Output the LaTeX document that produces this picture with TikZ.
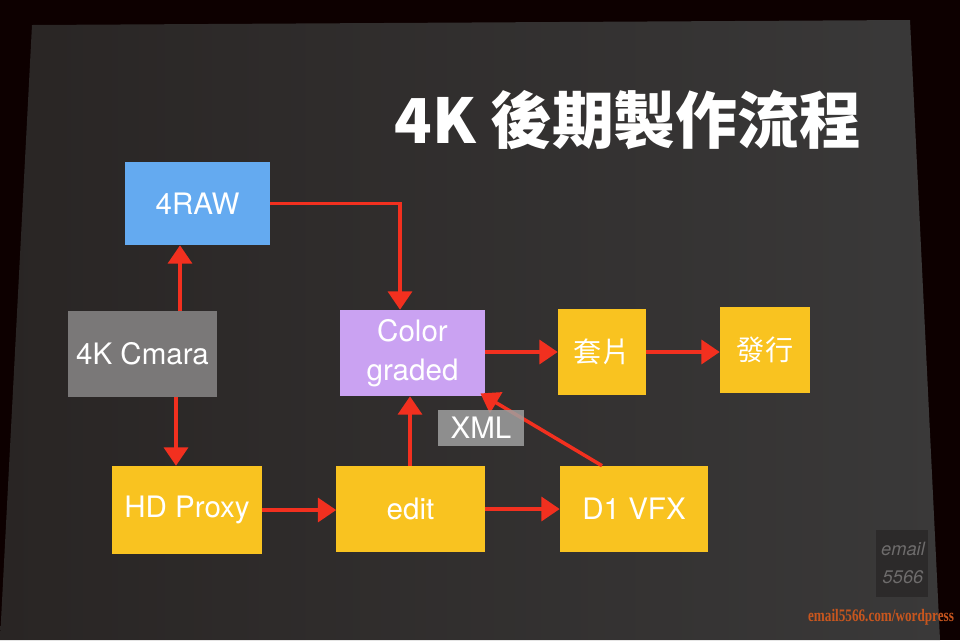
\documentclass[tikz,border=0pt]{standalone}
\usepackage{fontspec}
\usepackage{graphicx}
\setmainfont{TeX Gyre Heros}
\newfontfamily\cjk{Noto Sans CJK TC}
\newfontfamily\wmfont{Liberation Serif}
\usetikzlibrary{arrows.meta}
\definecolor{slideL}{HTML}{292524}
\definecolor{slideR}{HTML}{3A3939}
\definecolor{rawblue}{HTML}{64AAF0}
\definecolor{camgrey}{HTML}{7A7878}
\definecolor{lilac}{HTML}{CAA2F2}
\definecolor{sunny}{HTML}{F9C320}
\definecolor{arrowred}{HTML}{F2301F}
\definecolor{siteorange}{HTML}{C8561E}
\definecolor{wmbox}{HTML}{2C2A2A}
\definecolor{wmtext}{HTML}{6E6C6C}

\begin{document}
\begin{tikzpicture}[x=0.025cm,y=-0.025cm,
  box/.style={minimum width=3.7cm,minimum height=2.15cm,inner sep=0pt,text=white,align=center,font=\fontsize{21}{28}\selectfont},
  narrowbox/.style={box,minimum width=2.25cm,font=\cjk\fontsize{20}{24}\selectfont},
  arr/.style={draw=arrowred,line width=2.5pt,-{Triangle[length=13pt,width=17pt]}}]
\useasboundingbox (0,0) rectangle (960,640);
\fill[black!95!red] (0,0) rectangle (960,640);
\shade[left color=slideL,right color=slideR] (32,25) -- (910,20) -- (940,640) -- (0,640) -- cycle;
\node[text=white] (title) at (628,120) {\cjk\bfseries\fontsize{44}{50}\selectfont 4K 後期製作流程};
\node[box,fill=rawblue,minimum height=2.075cm,minimum width=3.625cm] (raw) at (197.5,203.5) {4RAW};
\node[box,fill=camgrey] (cam) at (142.5,354) {4K Cmara};
\node[box,fill=lilac,minimum width=3.625cm] (color) at (412.5,353) {Color\\graded};
\node[narrowbox,fill=sunny,minimum width=2.2cm] (tao) at (602,352) {套片};
\node[narrowbox,fill=sunny] (issue) at (765,350) {發行};
\node[box,fill=sunny,minimum width=3.75cm,minimum height=2.2cm] (hd) at (187,510) {HD Proxy};
\node[box,fill=sunny] (edit) at (410.5,509) {edit};
\node[box,fill=sunny] (vfx) at (634,509) {D1 VFX};
\draw[arr] (cam.north -| 180,0) -- (raw.south -| 180,0);
\draw[arr] (cam.south -| 176,0) -- (hd.north -| 176,0);
\draw[arr] (raw.east) -| (color.north -| 400,0);
\draw[arr] (color.east |- tao.west) -- (tao.west);
\draw[arr] (tao.east) -- (issue.west |- tao.east);
\draw[arr] (hd.east) -- (edit.west |- hd.east);
\draw[arr] (edit.east) -- (vfx.west |- edit.east);
\draw[arr] (edit.north -| 410,0) -- (color.south -| 410,0);
\draw[arr,shorten >=-4pt] (vfx.north -| 602,0) -- (color.south east);
\node[box,fill=gray!75,fill opacity=0.85,text opacity=1,minimum width=2.15cm,minimum height=0.9cm] (xml) at (481,428) {XML};
\fill[wmbox] (876,530) rectangle (928,597);
\node[text=wmtext,font=\itshape\fontsize{13}{15}\selectfont] (wmtop) at (903,549) {email};
\node[text=wmtext,font=\itshape\fontsize{13}{15}\selectfont] (wmbottom) at (903,577) {5566};
\node[text=siteorange] (site) at (881,617) {\scalebox{0.75}[1]{\wmfont\bfseries\fontsize{12.5}{14}\selectfont email5566.com/wordpress}};
\end{tikzpicture}
\end{document}
